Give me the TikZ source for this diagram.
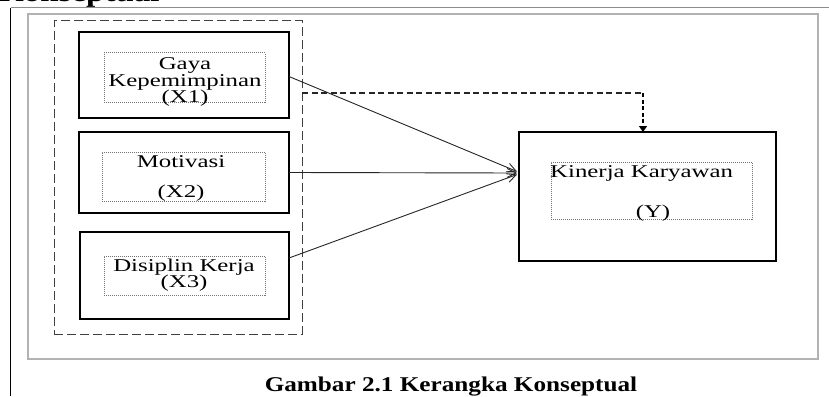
\documentclass[tikz,border=0pt]{standalone}
\usepackage{fontspec}
\setmainfont{Liberation Serif}
\newfontfamily\bxf{Liberation Serif}[FakeStretch=1.38]
\newfontfamily\capf{Liberation Serif}[FakeStretch=1.2]
\usetikzlibrary{arrows.meta,calc}
\begin{document}
\begin{tikzpicture}[x=1pt,y=-1pt,
  thickbox/.style={draw=black,line width=2.4pt,minimum width=#1,inner sep=0pt,outer sep=0pt},
  dotbox/.style={draw=black!55,densely dotted,line width=1pt,inner sep=0pt,outer sep=0pt},
  boxtxt/.style={font=\bxf\fontsize{18}{16.5}\selectfont,inner sep=0pt,anchor=base,text=black},
  conn/.style={draw=black!85,line width=0.9pt,-{Straight Barb[length=9pt,width=9pt,line width=0.9pt]}},
  grp/.style={draw=black!75,line width=1pt,dash pattern=on 9pt off 4pt,inner sep=0pt,outer sep=0pt},
  frame/.style={draw=black!30,line width=1.4pt}
]
\useasboundingbox (0,0) rectangle (829,396);
\clip (0,0) rectangle (829,396);
% top fragment of heading
\node[font=\capf\bfseries\fontsize{27.5}{30}\selectfont,anchor=base west,inner sep=0pt] (head) at (-2,2) {Konseptual};
% page lines
\coordinate (tl) at (10.5,8);
\coordinate (tr) at (829,8);
\coordinate (bl) at (10.5,396);
\draw[black!45,line width=1pt] (tl) -- (tr);
\draw[black,line width=1.5pt] (tl) -- (bl);
% inner frame
\node[frame,minimum width=790pt,minimum height=345pt,inner sep=0pt] (fr) at (423,186.5) {};
% group dashed box
\node[grp,minimum width=248pt,minimum height=313pt] (grp) at (178,177.5) {};
% boxes
\node[thickbox=210pt,minimum height=86pt] (x1) at (184,75) {};
\node[thickbox=210pt,minimum height=81pt] (x2) at (184,172.5) {};
\node[thickbox=209pt,minimum height=87pt] (x3) at (184.5,275.5) {};
\node[thickbox=257pt,minimum height=129pt] (y) at (647.5,196.5) {};
% inner dotted boxes
\node[dotbox,minimum width=161pt,minimum height=49pt] (d1) at (184.5,77.5) {};
\node[dotbox,minimum width=163pt,minimum height=49pt] (d2) at (183.5,176.5) {};
\node[dotbox,minimum width=161pt,minimum height=39pt] (d3) at (184.5,275.5) {};
\node[dotbox,minimum width=201pt,minimum height=57pt] (dy) at (651.5,190.5) {};
% texts
\node[boxtxt] (t1a) at (185,69) {Gaya};
\node[boxtxt] (t1b) at (185,86) {Kepemimpinan};
\node[boxtxt] (t1c) at (185,102) {(X1)};
\node[boxtxt] (t2a) at (181,167) {Motivasi};
\node[boxtxt] (t2b) at (181,197) {(X2)};
\node[boxtxt] (t3a) at (184,271) {Disiplin Kerja};
\node[boxtxt] (t3b) at (184,287) {(X3)};
\node[boxtxt,anchor=base west] (tya) at (550,177) {Kinerja Karyawan};
\node[boxtxt] (tyb) at (653,217) {(Y)};
% connectors
\coordinate (conv1) at (517,171.5);
\coordinate (conv2) at (517,173);
\coordinate (conv3) at (517,174.5);
\draw[conn] ($(x1.east)+(0,1.5)$) -- (conv1);
\draw[conn] (x2.east) -- (conv2);
\draw[conn] ($(x3.east)+(0,-17.5)$) -- (conv3);
% dashed moderating connector
\coordinate (corner) at (643,93);
\draw[black!85,line width=1.1pt,dash pattern=on 6pt off 3.5pt] ($(grp.east)+(0,-84.5)$) -- (corner);
\draw[black,line width=2pt,dash pattern=on 4pt off 2.5pt,-{Triangle[length=6pt,width=8pt]}] (corner) -- (corner |- y.north);
% caption
\node[font=\capf\bfseries\fontsize{21}{24}\selectfont,anchor=base,inner sep=0pt] (cap) at (451,391) {Gambar 2.1 Kerangka Konseptual};
\end{tikzpicture}
\end{document}
